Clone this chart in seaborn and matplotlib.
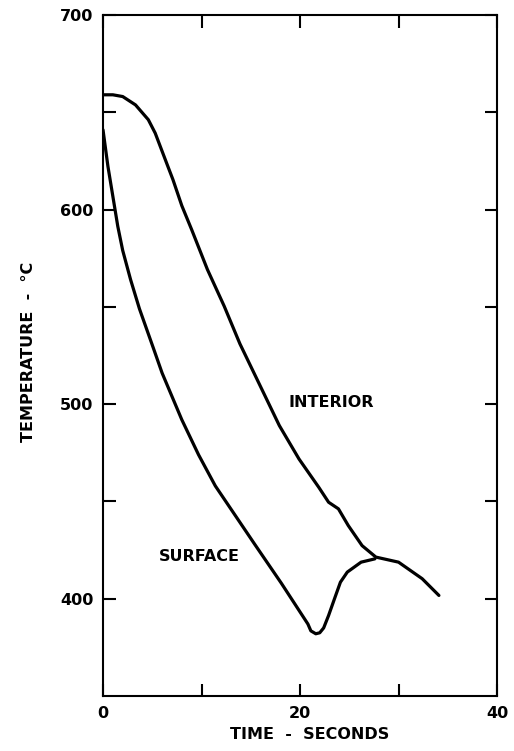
import matplotlib
matplotlib.use("Agg")
import matplotlib.pyplot as plt
import seaborn as sns
import pandas as pd

# Data
interior_time = [0.0, 1.0, 2.0, 3.3, 4.6, 5.3, 6.6, 7.1, 8.0, 9.0, 10.6, 12.3, 13.9,
                 15.9, 17.9, 19.9, 21.9, 22.9, 23.9, 24.9, 26.3, 27.7, 30.0, 32.4, 34.1]
interior_temp = [659, 659, 658.1, 653.8, 646.2, 639.3, 622, 615.4, 602, 589.7, 569.2,
                 550.4, 531, 510, 489, 471.8, 457.3, 449.6, 446.2, 437.6, 427.3, 421.4,
                 418.8, 410.3, 401.7]

surface_time = [0.0, 0.5, 1.0, 1.5, 2.0, 2.8, 3.7, 5.1, 6.0, 8.0, 9.7, 11.4, 13.4,
                15.4, 18.1, 20.8, 21.1, 21.6, 22.0, 22.4, 22.9, 23.5, 24.1, 24.8,
                26.2, 27.6]
surface_temp = [641, 622.2, 606.8, 591.4, 579, 564, 549, 529, 516, 492, 474, 458,
                443, 428, 408, 387, 383.5, 382, 382.5, 385, 391.4, 400, 408.5, 413.7,
                418.8, 420.5]

x_major = [0, 20, 40]
x_ticks = [0, 10, 20, 30, 40]
y_major = [400, 500, 600, 700]
y_ticks = [400, 450, 500, 550, 600, 650, 700]

labels = {"INTERIOR": (23.2, 501), "SURFACE": (9.8, 421.5)}

sns.set_theme(style="ticks")
plt.rcParams["font.family"] = ["DejaVu Sans"]

fig = plt.figure(figsize=(5.14, 7.51), dpi=100)
ax = fig.add_axes([0.2004, 0.0732, 0.7666, 0.9068])

df_i = pd.DataFrame({"t": interior_time, "T": interior_temp})
df_s = pd.DataFrame({"t": surface_time, "T": surface_temp})
sns.lineplot(data=df_i, x="t", y="T", ax=ax, color="black", lw=2.3,
             sort=False, estimator=None, solid_joinstyle="round",
             solid_capstyle="round")
sns.lineplot(data=df_s, x="t", y="T", ax=ax, color="black", lw=2.3,
             sort=False, estimator=None, solid_joinstyle="round",
             solid_capstyle="round")

ax.set_xlim(0, 40)
ax.set_ylim(350, 700)
ax.set_xticks(x_ticks)
ax.set_xticklabels([str(v) if v in x_major else "" for v in x_ticks])
ax.set_yticks(y_ticks)
ax.set_yticklabels([str(v) if v in y_major else "" for v in y_ticks])
ax.tick_params(direction="in", length=9, width=1.5, top=True, right=True,
               labelsize=11.5, pad=7, colors="black")
for lab in ax.get_xticklabels() + ax.get_yticklabels():
    lab.set_fontweight("bold")
for s in ax.spines.values():
    s.set_linewidth(1.5)
    s.set_color("black")

ax.set_xlabel("TIME  -  SECONDS", fontsize=11.5, fontweight="bold", color="black")
ax.set_ylabel("TEMPERATURE  -  \u00b0C", fontsize=11.5, fontweight="bold", color="black")
ax.xaxis.set_label_coords(0.525, -0.046)
ax.yaxis.set_label_coords(-0.17, 0.505)

for txt, (x, y) in labels.items():
    ax.text(x, y, txt, fontsize=11.5, fontweight="bold", ha="center", va="center",
            color="black")

fig.savefig("out.png", dpi=100)
